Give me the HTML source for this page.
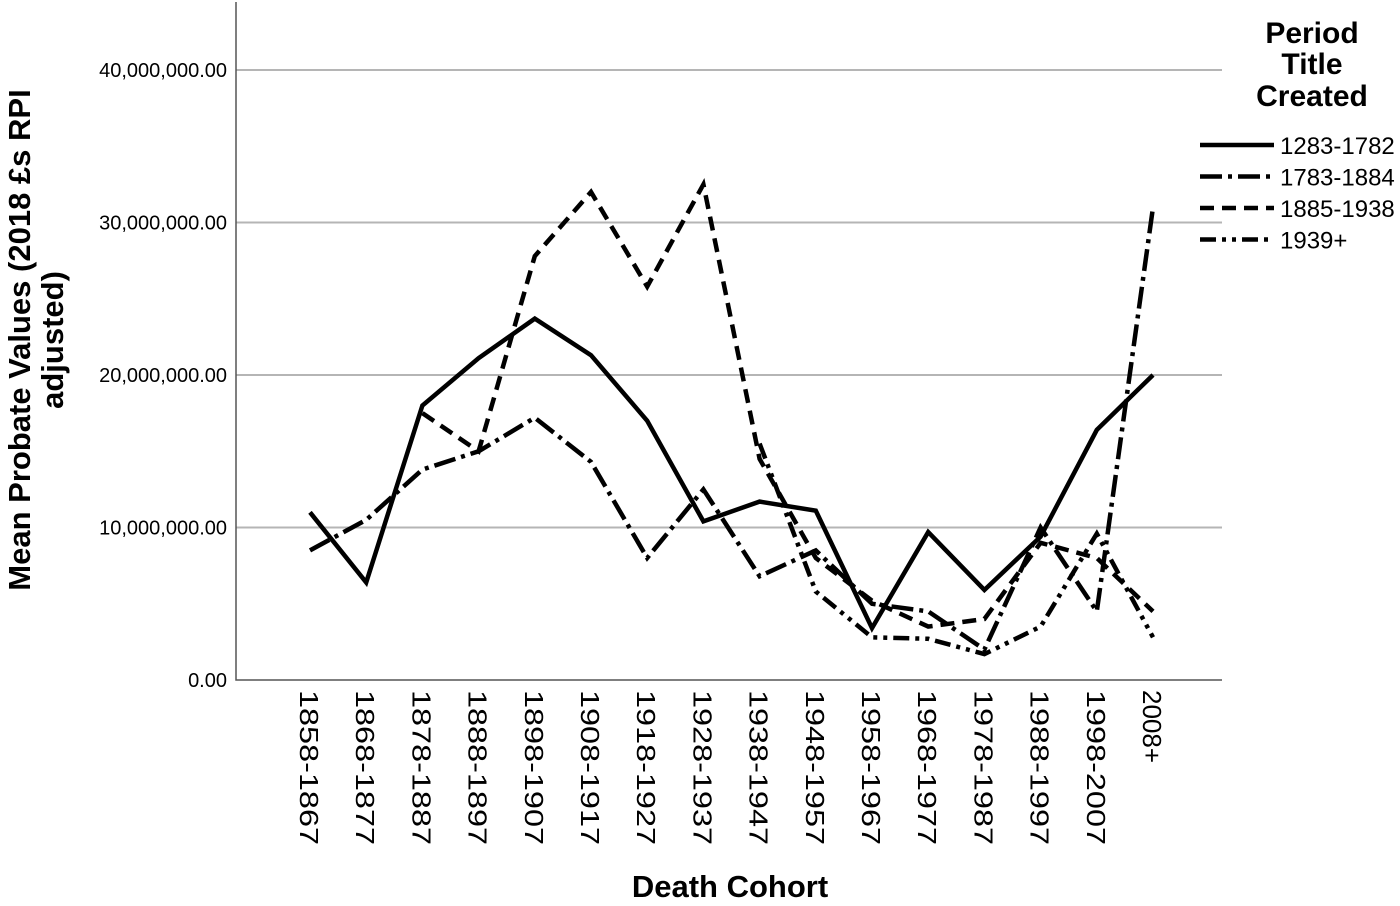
<!DOCTYPE html>
<html><head><meta charset="utf-8"><style>
body{margin:0;background:#fff}
svg text{font-family:"Liberation Sans",sans-serif}
</style></head><body>
<svg id="chart" width="1400" height="901" xmlns="http://www.w3.org/2000/svg">
<g id="grid"></g><g id="series"></g><g id="axes"></g>
<text x="730" y="897" text-anchor="middle" font-size="31" font-weight="bold">Death Cohort</text>
<text transform="translate(30,340) rotate(-90)" text-anchor="middle" font-size="31" font-weight="bold"><tspan x="0" dy="0">Mean Probate Values (2018 £s RPI</tspan><tspan x="0" dy="33">adjusted)</tspan></text>
<g>
<text text-anchor="middle" font-size="30" font-weight="bold"><tspan x="1312" y="43">Period</tspan><tspan x="1312" y="74">Title</tspan><tspan x="1312" y="106">Created</tspan></text>
<g id="legend-items"></g>
</g>
</svg>
<script>
const categories=["1858-1867","1868-1877","1878-1887","1888-1897","1898-1907","1908-1917","1918-1927","1928-1937","1938-1947","1948-1957","1958-1967","1968-1977","1978-1987","1988-1997","1998-2007","2008+"];
const yTicks=[0,10000000,20000000,30000000,40000000];
const seriesNames=["1283-1782","1783-1884","1885-1938","1939+"];
const s1=[11.0,6.4,18.0,21.1,23.7,21.3,17.0,10.4,11.7,11.1,3.4,9.7,5.9,9.4,16.4,20.0];
const s2=[8.5,10.5,13.8,15.0,17.2,14.3,8.0,12.5,6.8,8.5,5.0,4.5,2.0,10.0,4.5,31.0];
const s3=[null,null,17.5,15.0,27.8,32.0,25.8,32.5,14.5,8.0,5.2,3.5,4.0,9.0,8.0,4.5];
const s4=[null,null,null,null,null,null,null,null,15.5,5.8,2.8,2.7,1.7,3.5,9.6,2.8];
const NS="http://www.w3.org/2000/svg";
const x0=236,x1=1222,yBase=680,yTop=70;
const xs=i=>310+i*(1153-310)/(categories.length-1);
const ys=v=>yBase-(v/40000000)*(yBase-yTop);
function mk(tag,attrs,parent){const e=document.createElementNS(NS,tag);for(const k in attrs)e.setAttribute(k,attrs[k]);parent.appendChild(e);return e;}
const grid=document.getElementById('grid'),axes=document.getElementById('axes'),ser=document.getElementById('series');
yTicks.forEach(t=>{
 if(t>0){const l=mk('line',{x1:x0,x2:x1,y1:ys(t),y2:ys(t),stroke:'#b5b5b5','stroke-width':2},grid);
 
 }
 const tx=mk('text',{x:227,y:ys(t)+7,'text-anchor':'end','font-size':20},axes);
 tx.textContent=t.toLocaleString('en-US')+'.00';
 
 
});
const ax=mk('path',{d:`M${x0} 2 V${yBase} H${x1}`,stroke:'#555',fill:'none','stroke-width':1.5},axes);


categories.forEach((c,i)=>{
 const t=mk('text',{transform:`translate(${xs(i)-10},690) rotate(90)`,'font-size':26},axes);
 t.textContent=c;
 if(c.length>6){t.setAttribute('textLength',155);t.setAttribute('lengthAdjust','spacingAndGlyphs');}
 
 
});
const dashes=[null,"22 6 4 6","14 8","16 6 4 6 4 6"];
[s1,s2,s3,s4].forEach((s,k)=>{
 let d='';let pen=false;
 s.forEach((v,i)=>{if(v==null){pen=false;return;}d+=(pen?'L':'M')+xs(i).toFixed(1)+' '+ys(v*1e6).toFixed(1)+' ';pen=true;});
 const p=mk('path',{d:d,fill:'none',stroke:'#000','stroke-width':4.5,'stroke-linejoin':'miter'},ser);
 if(dashes[k])p.setAttribute('stroke-dasharray',dashes[k]);
 
 
 const li=document.getElementById('legend-items');
 const y=145+k*31.5;
 const ll=mk('line',{x1:1200,x2:1274,y1:y,y2:y,stroke:'#000','stroke-width':4.5},li);
 if(dashes[k])ll.setAttribute('stroke-dasharray',dashes[k]);
 
 
 const lt=mk('text',{x:1280,y:y+9,'font-size':24},li);
 lt.textContent=seriesNames[k];
 
 
});
</script>
</body></html>
